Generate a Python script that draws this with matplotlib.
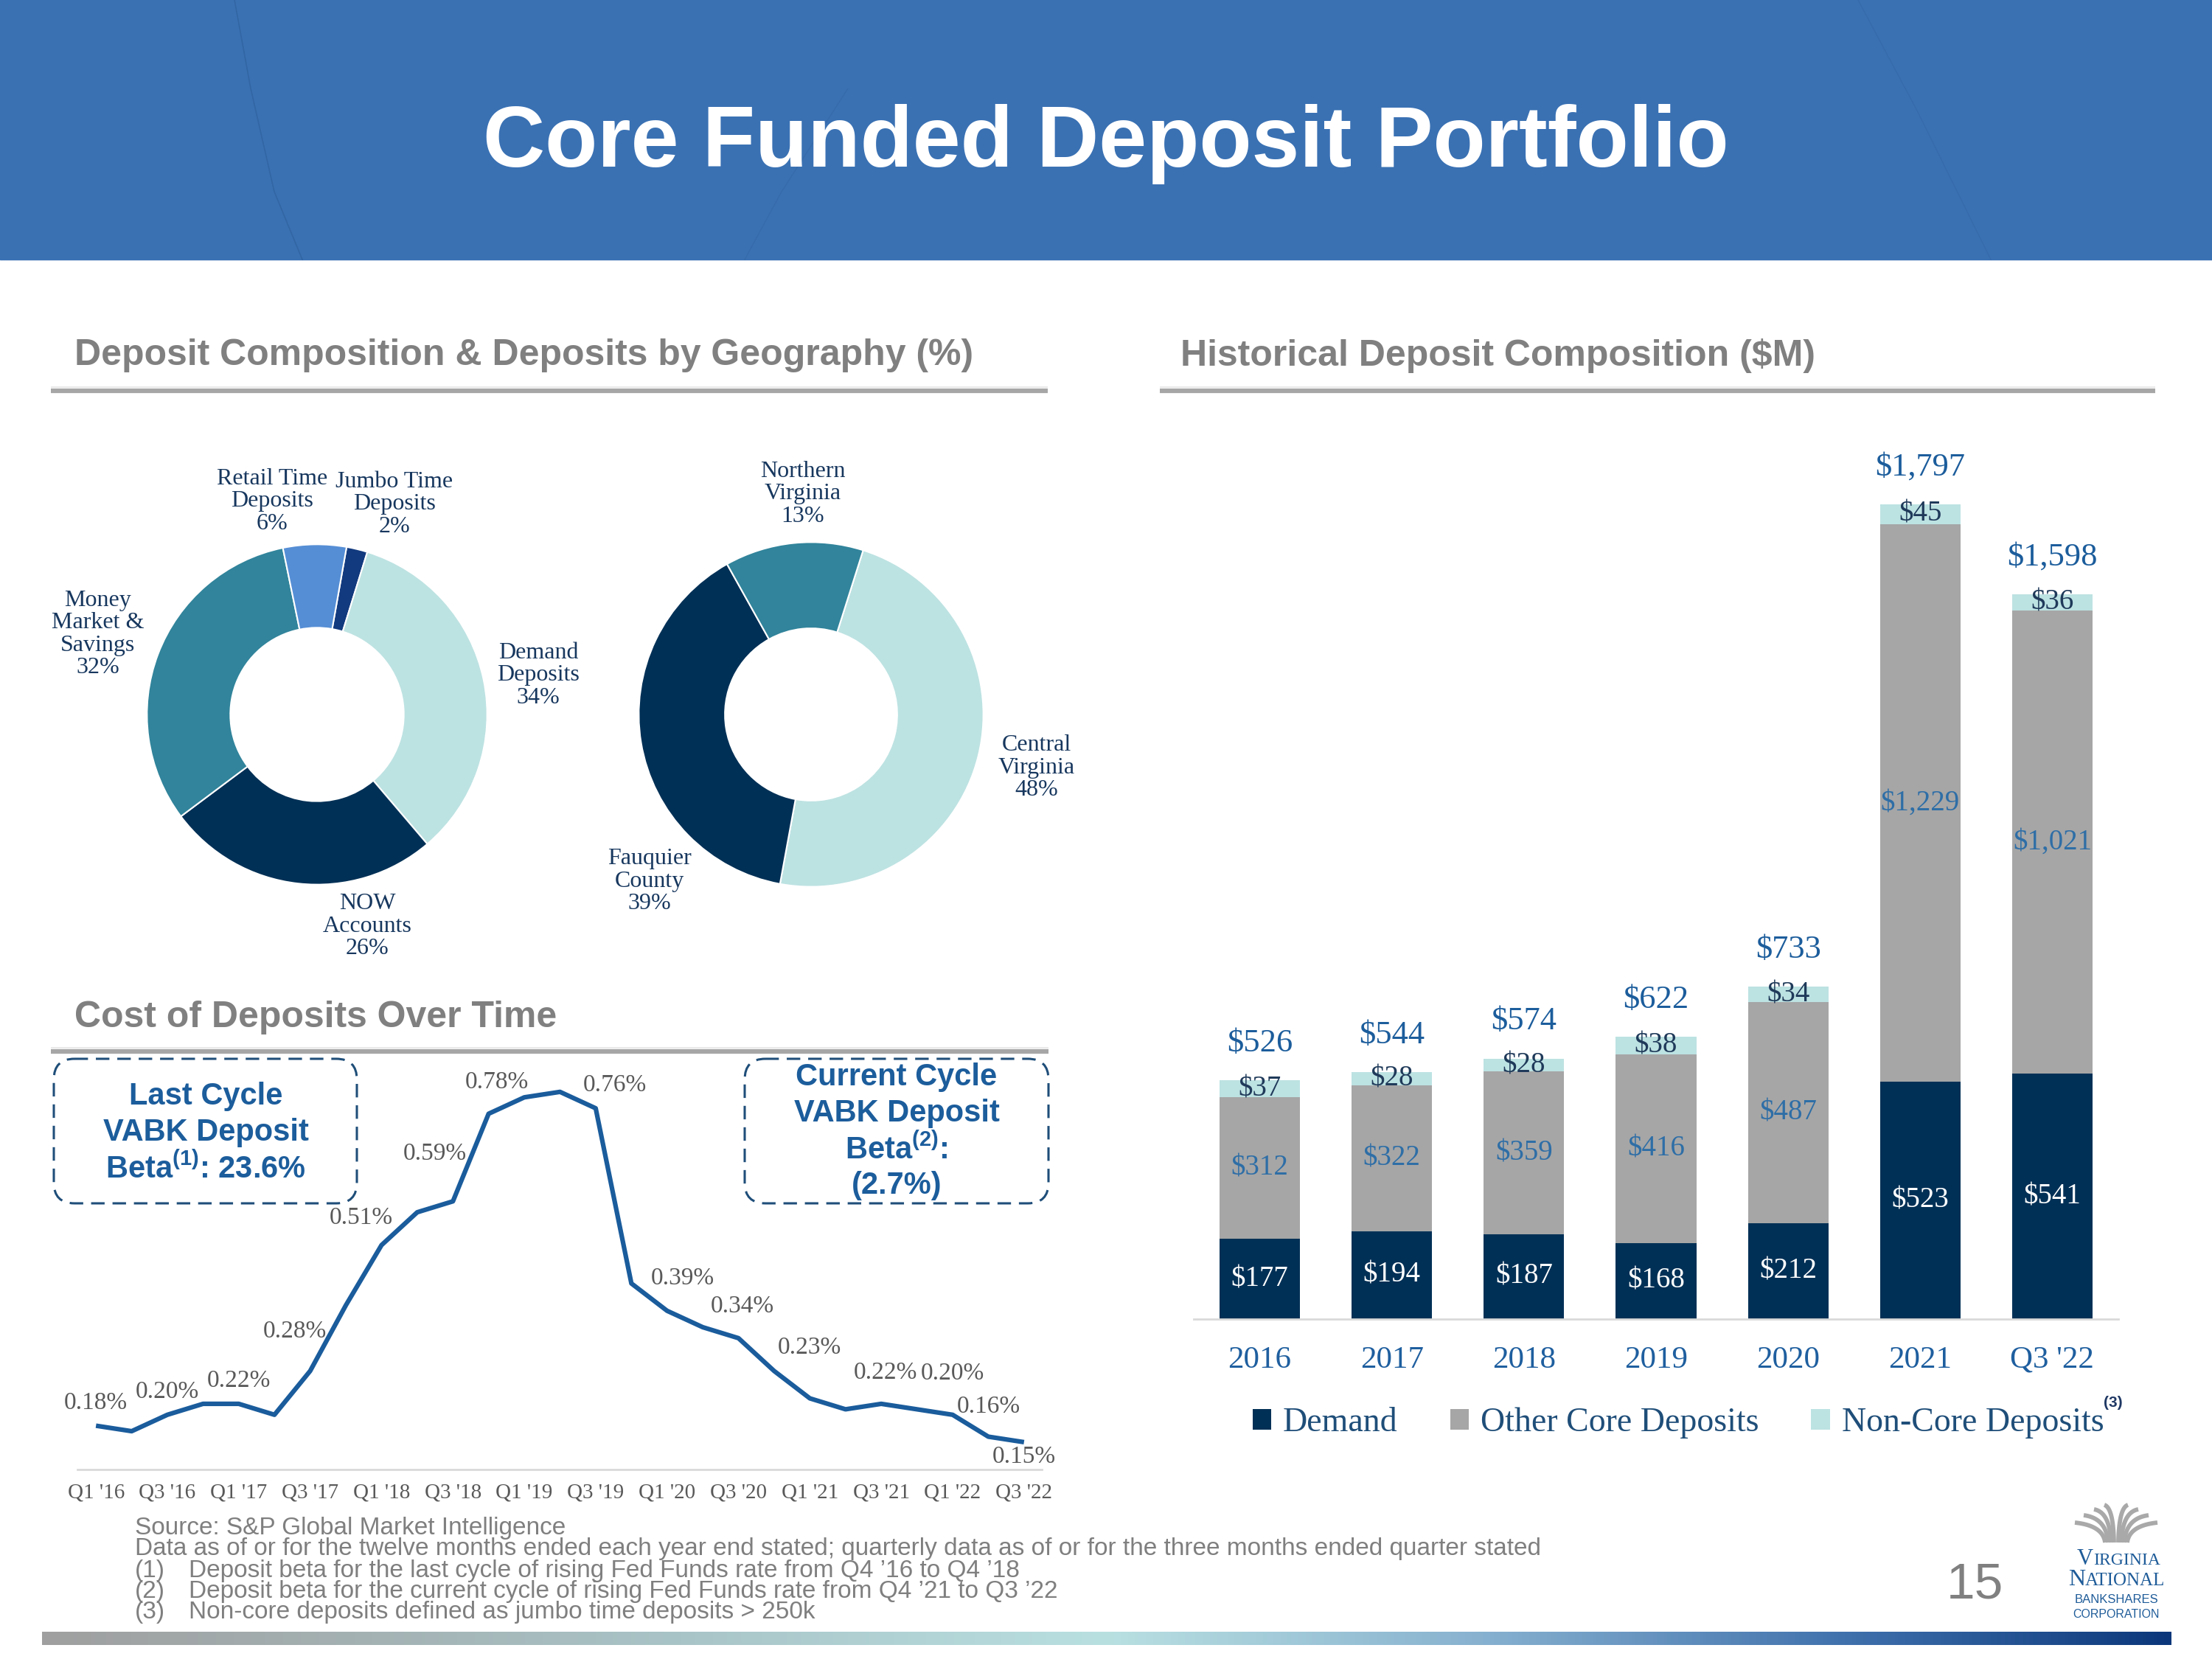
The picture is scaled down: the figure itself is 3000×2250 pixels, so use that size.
import numpy as np
import matplotlib
matplotlib.use("Agg")
import matplotlib.pyplot as plt
from matplotlib.patches import Rectangle, FancyBboxPatch

# ---------------- data ----------------
comp_names = ["Jumbo Time\nDeposits", "Demand\nDeposits", "NOW\nAccounts",
              "Money\nMarket &\nSavings", "Retail Time\nDeposits"]
comp_pct = [2, 34, 26, 32, 6]

geo_names = ["Central\nVirginia", "Fauquier\nCounty", "Northern\nVirginia"]
geo_pct = [48, 39, 13]

years = ["2016", "2017", "2018", "2019", "2020", "2021", "Q3 '22"]
demand = [177, 194, 187, 168, 212, 523, 541]
other_core = [312, 322, 359, 416, 487, 1229, 1021]
non_core = [37, 28, 28, 38, 34, 45, 36]
totals = [526, 544, 574, 622, 733, 1797, 1598]
series_names = ["Demand", "Other Core Deposits", "Non-Core Deposits"]

quarters = ["Q1 '16", "Q2 '16", "Q3 '16", "Q4 '16",
            "Q1 '17", "Q2 '17", "Q3 '17", "Q4 '17",
            "Q1 '18", "Q2 '18", "Q3 '18", "Q4 '18",
            "Q1 '19", "Q2 '19", "Q3 '19", "Q4 '19",
            "Q1 '20", "Q2 '20", "Q3 '20", "Q4 '20",
            "Q1 '21", "Q2 '21", "Q3 '21", "Q4 '21",
            "Q1 '22", "Q2 '22", "Q3 '22"]
cost = [0.18, 0.17, 0.20, 0.22,
        0.22, 0.20, 0.28, 0.40,
        0.51, 0.57, 0.59, 0.75,
        0.78, 0.79, 0.76, 0.44,
        0.39, 0.36, 0.34, 0.28,
        0.23, 0.21, 0.22, 0.21,
        0.20, 0.16, 0.15]
labeled_quarters = ["Q1 '16", "Q3 '16", "Q1 '17", "Q3 '17", "Q1 '18", "Q3 '18",
                    "Q1 '19", "Q3 '19", "Q1 '20", "Q3 '20", "Q1 '21", "Q3 '21",
                    "Q1 '22", "Q2 '22", "Q3 '22"]

# ---------------- style ----------------
SANS = "Liberation Sans"
SERIF = "Liberation Serif"
plt.rcParams["font.family"] = SANS
plt.rcParams["mathtext.fontset"] = "custom"
plt.rcParams["mathtext.rm"] = "Liberation Sans"
plt.rcParams["mathtext.bf"] = "Liberation Sans:bold"

LIGHT = "#bde2e2"
TEAL = "#31849b"
NAVY = "#013056"
MBLUE = "#558ed5"
DNAVY = "#123a7e"
GRAYB = "#a6a6a6"
HEADGRAY = "#808080"
BLUE = "#1c5d9c"
LABEL_NAVY = "#17375e"

W, H = 3000, 2250
fig = plt.figure(figsize=(30, 22.5), dpi=100)


def fx(x):
    return x / W


def fy(y):
    return 1 - y / H


# background / decoration axes in pixel coordinates
bg = fig.add_axes([0, 0, 1, 1])
bg.set_xlim(0, W)
bg.set_ylim(H, 0)
bg.axis("off")

# header banner
bg.add_patch(Rectangle((0, 0), W, 352, color="#3a71b3", zorder=1))
bg.plot([318, 340, 372, 410], [0, 120, 260, 352], color="#2d5f99", lw=1.2, alpha=0.6, zorder=2)
bg.plot([1010, 1060, 1150], [352, 260, 120], color="#3366a3", lw=1.0, alpha=0.5, zorder=2)
bg.plot([2520, 2600, 2700], [0, 150, 352], color="#3366a3", lw=1.0, alpha=0.5, zorder=2)
bg.text(1500, 195, "Core Funded Deposit Portfolio", ha="center", va="center",
        color="white", fontsize=84, fontweight="bold", family=SANS, zorder=3)

# section headers
bg.text(101, 482, "Deposit Composition & Deposits by Geography (%)", ha="left", va="center",
        fontsize=36, fontweight="bold", color=HEADGRAY)
bg.text(1601, 482, "Historical Deposit Composition ($M)", ha="left", va="center",
        fontsize=36, fontweight="bold", color=HEADGRAY)
bg.text(101, 1380, "Cost of Deposits Over Time", ha="left", va="center",
        fontsize=36, fontweight="bold", color=HEADGRAY)
for x0, x1, yy in [(69, 1421, 530), (1573, 2923, 530), (69, 1422, 1426)]:
    bg.plot([x0, x1], [yy - 5, yy - 5], color="#e6e6e6", lw=1.2, solid_capstyle="butt")
    bg.plot([x0, x1], [yy, yy], color="#a6a6a6", lw=4.5, solid_capstyle="butt")

# ---------------- donuts ----------------
def donut(cx, cy, r, vals, colors, start, width):
    ax = fig.add_axes([fx(cx - r), fy(cy + r), 2 * r / W, 2 * r / H])
    ax.pie(vals, colors=colors, startangle=start, counterclock=False, radius=1,
           wedgeprops=dict(width=width, edgecolor="white", linewidth=1.5))
    ax.set_xlim(-1.01, 1.01)
    ax.set_ylim(-1.01, 1.01)
    ax.set_facecolor("none")
    return ax


donut(430, 969, 233, comp_pct, [DNAVY, LIGHT, NAVY, TEAL, MBLUE], 80, 0.49)
donut(1100, 969, 236, geo_pct, [LIGHT, NAVY, TEAL], 72.4, 0.50)

comp_pos = [(535, 684), (730, 916), (498, 1256), (133, 860), (369, 680)]
geo_pos = [(1406, 1041), (881, 1195), (1089, 670)]
for names, pcts, poss in [(comp_names, comp_pct, comp_pos), (geo_names, geo_pct, geo_pos)]:
    for n, p, (px, py) in zip(names, pcts, poss):
        bg.text(px, py, f"{n}\n{p}%", ha="center", va="center", fontsize=23,
                family=SERIF, color=LABEL_NAVY, linespacing=1.05)

# ---------------- cost of deposits line ----------------
axl = fig.add_axes([fx(105), fy(1993), 1308 / W, 553 / H])
axl.set_facecolor("none")
xq = np.arange(len(quarters))
axl.plot(xq, cost, color="#1a5c9c", lw=4.5, solid_joinstyle="round", solid_capstyle="butt")
axl.set_xlim(-0.52, 26.5)
axl.set_ylim(0.10, 0.845)
for s in ["top", "left", "right"]:
    axl.spines[s].set_visible(False)
axl.spines["bottom"].set_color("#d9d9d9")
axl.spines["bottom"].set_linewidth(2)
axl.set_yticks([])
axl.set_xticks(xq[::2])
axl.set_xticklabels(quarters[::2], fontsize=21, color="#595959", family=SERIF)
axl.tick_params(axis="x", length=0, pad=13)

label_offsets = [(0, 31), (0, 31), (0, 31), (-21, 54), (-28, 37), (-24, 65),
                 (-37, 20), (26, 31), (21, 44), (5, 43), (0, 69), (6, 42),
                 (0, 56), (0, 41), (0, -20)]
for q, off in zip(labeled_quarters, label_offsets):
    i = quarters.index(q)
    axl.annotate(f"{cost[i]:.2f}%", (i, cost[i]), xytext=off, textcoords="offset pixels",
                 ha="center", va="center", fontsize=24, color="#595959", family=SERIF)

# callout boxes
for (x0, y0, w, h) in [(73, 1436, 411, 196), (1010, 1436, 412, 196)]:
    bg.add_patch(FancyBboxPatch((x0, y0), w, h, boxstyle="round,pad=0,rounding_size=28",
                                fill=False, ec="#1f4e79", lw=2.2, ls=(0, (6, 3.5)), zorder=3))
left_lines = ["Last Cycle", "VABK Deposit", r"Beta$^{\mathbf{(1)}}$: 23.6%"]
for t, yy in zip(left_lines, [1487, 1536, 1585]):
    bg.text(279, yy, t, ha="center", va="center", fontsize=30, fontweight="bold", color=BLUE, zorder=4)
right_lines = ["Current Cycle", "VABK Deposit", r"Beta$^{\mathbf{(2)}}$:", "(2.7%)"]
for t, yy in zip(right_lines, [1461, 1510, 1559, 1608]):
    bg.text(1216, yy, t, ha="center", va="center", fontsize=30, fontweight="bold", color=BLUE, zorder=4)

# ---------------- stacked bars ----------------
axb = fig.add_axes([fx(1619), fy(1789), 1254 / W, 1189 / H])
axb.set_facecolor("none")
xb = np.arange(len(years))
bw = 0.61
b1 = axb.bar(xb, demand, bw, color=NAVY, label=series_names[0])
b2 = axb.bar(xb, other_core, bw, bottom=demand, color=GRAYB, label=series_names[1])
b3 = axb.bar(xb, non_core, bw, bottom=np.add(demand, other_core), color=LIGHT, label=series_names[2])
axb.bar_label(b1, labels=[f"${v:,}" for v in demand], label_type="center",
              color="white", fontsize=28, family=SERIF)
axb.bar_label(b2, labels=[f"${v:,}" for v in other_core], label_type="center",
              color="#2e6ea6", fontsize=28, family=SERIF)
axb.bar_label(b3, labels=[f"${v:,}" for v in non_core], label_type="center",
              color="#1f3a5a", fontsize=28, family=SERIF)
axb.bar_label(b3, labels=[f"${v:,}" for v in totals], padding=22,
              color=BLUE, fontsize=32, family=SERIF)
axb.set_xlim(-0.5, 6.5)
axb.set_ylim(0, 1933)
for s in ["top", "left", "right"]:
    axb.spines[s].set_visible(False)
axb.spines["bottom"].set_color("#d9d9d9")
axb.spines["bottom"].set_linewidth(2)
axb.set_yticks([])
axb.set_xticks(xb)
axb.set_xticklabels(years, fontsize=31, color="#1f5f9f", family=SERIF)
axb.tick_params(axis="x", length=0, pad=26)
axb.legend(handles=[b1, b2, b3], loc="center", bbox_to_anchor=(fx(2276), fy(1930)),
           bbox_transform=fig.transFigure, ncol=3, frameon=False,
           prop={"family": SERIF, "size": 33}, handlelength=0.55, handleheight=0.55,
           handletextpad=0.35, columnspacing=1.55, labelcolor="#1f4e79")
bg.text(2866, 1902, "(3)", ha="center", va="center", fontsize=15, fontweight="bold", color="#1f3864")

# ---------------- footnotes ----------------
FOOT = "#7f7f7f"
FS = 24
bg.text(183, 2072, "Source: S&P Global Market Intelligence", ha="left", va="center", fontsize=FS, color=FOOT)
bg.text(183, 2101, "Data as of or for the twelve months ended each year end stated; quarterly data as of or "
        "for the three months ended quarter stated", ha="left", va="center", fontsize=FS, color=FOOT)
notes = ["Deposit beta for the last cycle of rising Fed Funds rate from Q4 \u201916 to Q4 \u201918",
         "Deposit beta for the current cycle of rising Fed Funds rate from Q4 \u201921 to Q3 \u201922",
         "Non-core deposits defined as jumbo time deposits > 250k"]
for k, (t, yy) in enumerate(zip(notes, [2130, 2159, 2187])):
    bg.text(183, yy, f"({k + 1})", ha="left", va="center", fontsize=FS, color=FOOT)
    bg.text(256, yy, t, ha="left", va="center", fontsize=FS, color=FOOT)

# page number
bg.text(2678, 2150, "15", ha="center", va="center", fontsize=50, color=HEADGRAY)

# bottom gradient bar
stops = [0.0, 0.3, 0.5, 0.68, 0.85, 1.0]
cols = ["#9f9f9f", "#a9c4c7", "#b9e0e1", "#86b0cf", "#3f70ac", "#0b377a"]
rgb = np.array([matplotlib.colors.to_rgb(c) for c in cols])
t = np.linspace(0, 1, 600)
grad = np.stack([np.interp(t, stops, rgb[:, ch]) for ch in range(3)], axis=-1)
bg.imshow(grad[np.newaxis, :, :], extent=[57, 2945, 2231, 2213], aspect="auto", zorder=2)

# logo
base_x, base_y = 2870, 2092
for s in (-1, 1):
    for k, (d, yt) in enumerate(zip([16, 30, 44, 56], [2041, 2047, 2055, 2065])):
        tt = np.linspace(0, 1, 40)
        p0 = np.array([base_x + s * (3 + 4 * k), base_y])
        p1 = np.array([base_x + s * (3 + 4 * k + d * 0.05), yt + 4])
        p2 = np.array([base_x + s * d, yt])
        pts = ((1 - tt) ** 2)[:, None] * p0 + (2 * (1 - tt) * tt)[:, None] * p1 + (tt ** 2)[:, None] * p2
        bg.plot(pts[:, 0], pts[:, 1], color="#a9a9a9", lw=4.2, solid_capstyle="butt", zorder=3)
LOGO = "#1f5c99"
bg.text(2817, 2122, "V", ha="left", va="baseline", fontsize=22, family=SERIF, color=LOGO)
bg.text(2839, 2122, "IRGINIA", ha="left", va="baseline", fontsize=17, family=SERIF, color=LOGO)
bg.text(2805, 2150, "N", ha="left", va="baseline", fontsize=23, family=SERIF, color=LOGO)
bg.text(2828, 2150, "ATIONAL", ha="left", va="baseline", fontsize=18, family=SERIF, color=LOGO)
bg.text(2870, 2169, "BANKSHARES", ha="center", va="center", fontsize=12, color=LOGO)
bg.text(2870, 2189, "CORPORATION", ha="center", va="center", fontsize=11.5, color=LOGO)

bg.set_xlim(0, W)
bg.set_ylim(H, 0)

fig.savefig("out.png", dpi=100)
